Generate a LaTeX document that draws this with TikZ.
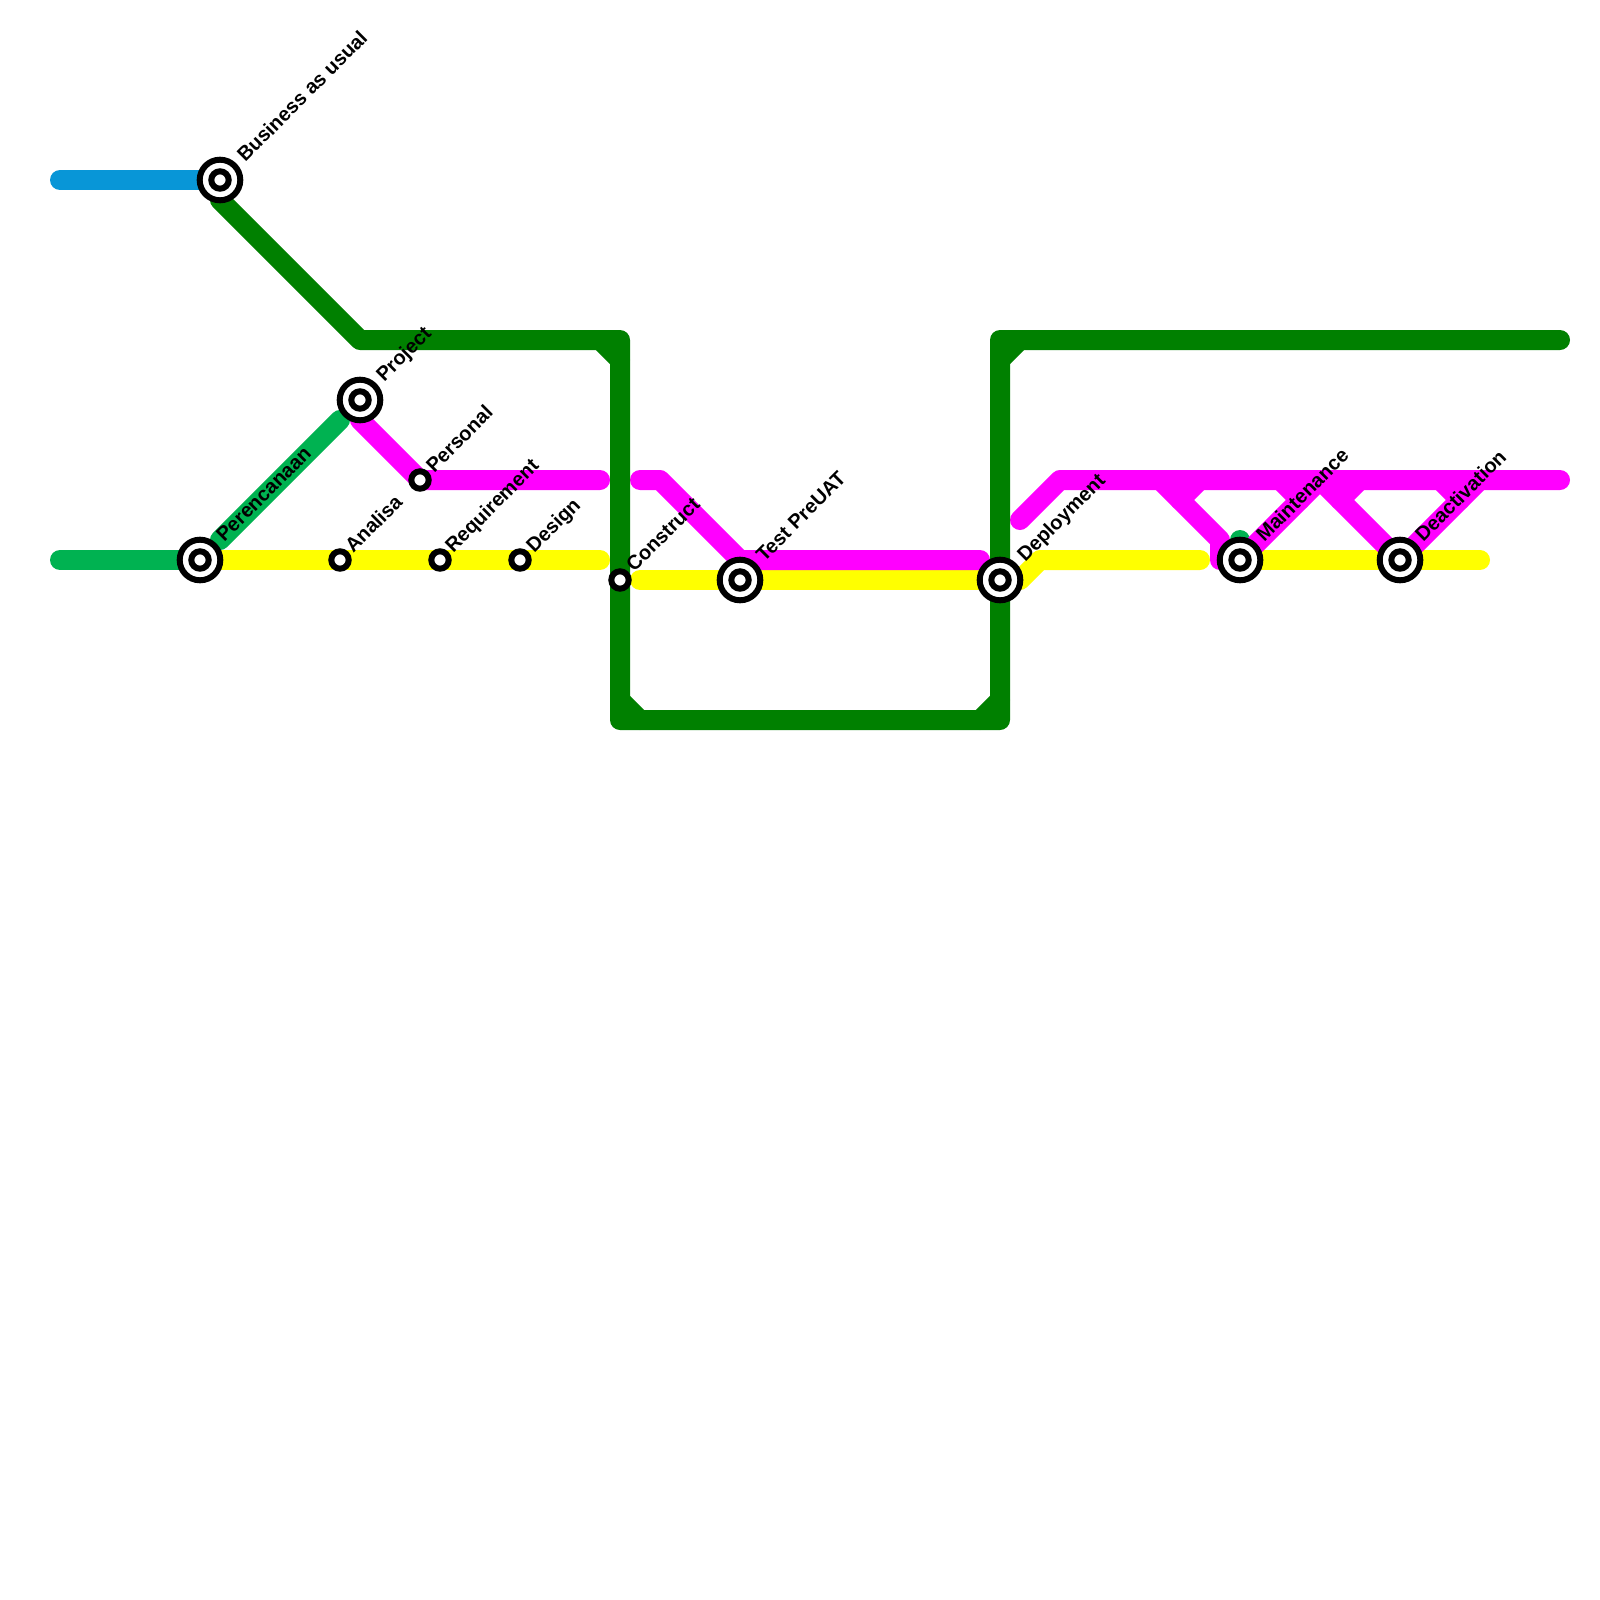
\documentclass[tikz,border=0pt]{standalone}
\usepackage{fontspec}
\setmainfont{Liberation Sans}
\usetikzlibrary{backgrounds}
\definecolor{lineblue}{HTML}{0896D7}
\definecolor{linegreen}{HTML}{008000}
\definecolor{linelime}{HTML}{00B251}
\definecolor{linepink}{HTML}{FF00FF}
\definecolor{lineyellow}{HTML}{FFFF00}
\tikzset{
    track/.style = {draw, line width = 10pt, line cap = round, line join = round},
    stop/.style = {circle, draw = black, fill = white, line width = 3pt, inner sep = 0pt, outer sep = 0pt, minimum size = 8.7pt},
    hub/.style = {stop, minimum size = 20.3pt, path picture = {\draw[line width = 3pt] (path picture bounding box.center) circle (4.35pt);}},
    stoplabel/.style = {rotate = 45, anchor = base west, inner sep = 0pt, font = \bfseries\fontsize{10}{12}\selectfont},
}

\begin{document}
\begin{tikzpicture}[x = 0.5pt, y = -0.5pt]
    \useasboundingbox (0, 0) rectangle (1600, 1600);

    \node[hub] (bau) at (220, 180) {};
    \node[hub] (plan) at (200, 560) {};
    \node[hub] (proj) at (360, 400) {};
    \node[stop] (analisa) at (340, 560) {};
    \node[stop] (pers) at (420, 480) {};
    \node[stop] (req) at (440, 560) {};
    \node[stop] (design) at (520, 560) {};
    \node[stop] (constr) at (620, 580) {};
    \node[hub] (test) at (740, 580) {};
    \node[hub] (deploy) at (1000, 580) {};
    \node[hub] (maint) at (1240, 560) {};
    \node[hub] (deact) at (1400, 560) {};

    \node[stoplabel] (l bau) at (245, 163) {Business as usual};
    \node[stoplabel] (l plan) at (224, 543) {Perencanaan};
    \node[stoplabel] (l proj) at (384, 383) {Project};
    \node[stoplabel] (l analisa) at (353, 554) {Analisa};
    \node[stoplabel] (l pers) at (434, 474) {Personal};
    \node[stoplabel] (l req) at (453, 554) {Requirement};
    \node[stoplabel] (l design) at (534, 554) {Design};
    \node[stoplabel] (l constr) at (634, 573) {Construct};
    \node[stoplabel] (l test) at (764, 563) {Test PreUAT};
    \node[stoplabel] (l deploy) at (1025, 563) {Deployment};
    \node[stoplabel] (l maint) at (1264, 543) {Maintenance};
    \node[stoplabel] (l deact) at (1423, 543) {Deactivation};

    % line ends and bends
    \coordinate (blue end) at (60, 180);
    \coordinate (lime end) at (60, 560);
    \coordinate (lime a) at (220, 540);
    \coordinate (lime b) at (340, 420);
    \coordinate (lime c) at (1240, 540);
    \coordinate (g1) at (220, 200);
    \coordinate (g2) at (360, 340);
    \coordinate (g3) at (620, 340);
    \coordinate (g4) at (620, 720);
    \coordinate (g5) at (1000, 720);
    \coordinate (g6) at (1000, 340);
    \coordinate (g7) at (1560, 340);
    \coordinate (gc1a) at (600, 340);
    \coordinate (gc1b) at (620, 360);
    \coordinate (gc2a) at (620, 700);
    \coordinate (gc2b) at (640, 720);
    \coordinate (gc3a) at (980, 720);
    \coordinate (gc3b) at (1000, 700);
    \coordinate (gc4a) at (1020, 340);
    \coordinate (gc4b) at (1000, 360);
    \coordinate (y1) at (600, 560);
    \coordinate (y2) at (640, 580);
    \coordinate (y3) at (1020, 580);
    \coordinate (y4) at (1040, 560);
    \coordinate (y5) at (1200, 560);
    \coordinate (y6) at (1480, 560);
    \coordinate (p1) at (360, 420);
    \coordinate (p2) at (600, 480);
    \coordinate (p3) at (640, 480);
    \coordinate (p4) at (660, 480);
    \coordinate (p5) at (740, 560);
    \coordinate (p6) at (980, 560);
    \coordinate (p7) at (1020, 520);
    \coordinate (p8) at (1060, 480);
    \coordinate (p9) at (1560, 480);
    \coordinate (m1) at (1160, 480);
    \coordinate (m2) at (1220, 540);
    \coordinate (m3) at (1220, 560);
    \coordinate (mc1a) at (1200, 480);
    \coordinate (mc1b) at (1180, 500);
    \coordinate (m4) at (1320, 480);
    \coordinate (mc2a) at (1280, 480);
    \coordinate (mc2b) at (1300, 500);
    \coordinate (mc3a) at (1360, 480);
    \coordinate (mc3b) at (1340, 500);
    \coordinate (m5) at (1480, 480);
    \coordinate (mc4a) at (1440, 480);
    \coordinate (mc4b) at (1460, 500);

    \begin{pgfonlayer}{background}
        \fill[white] (0, 0) rectangle (1600, 1600);

        \draw[track, lineblue] (blue end) -- (bau.center);

        \draw[track, linelime] (lime end) -- (plan.center);
        \draw[track, linelime] (lime a) -- (lime b);
        \draw[track, linelime] (lime c) -- (maint.center);

        \draw[track, lineyellow] (plan.center) -- (y1);
        \draw[track, lineyellow] (y2) -- (test.center) -- (deploy.center);
        \draw[track, lineyellow] (deploy.center) -- (y3) -- (y4) -- (y5);
        \draw[track, lineyellow] (maint.center) -- (deact.center) -- (y6);

        \draw[track, linepink] (proj.center) -- (p1) -- (pers.center) -- (p2);
        \draw[track, linepink] (p3) -- (p4) -- (p5) -- (p6);
        \draw[track, linepink] (p7) -- (p8) -- (p9);
        \draw[track, linepink] (m1) -- (m2) -- (m3) -- (maint.center) -- (m4) -- (deact.center) -- (m5);
        \draw[track, linepink] (mc1a) -- (mc1b);
        \draw[track, linepink] (mc2a) -- (mc2b);
        \draw[track, linepink] (mc3a) -- (mc3b);
        \draw[track, linepink] (mc4a) -- (mc4b);

        \draw[track, linegreen] (bau.center) -- (g1) -- (g2) -- (g3) -- (g4) -- (g5) -- (g6) -- (g7);
        \draw[track, linegreen] (gc1a) -- (gc1b);
        \draw[track, linegreen] (gc2a) -- (gc2b);
        \draw[track, linegreen] (gc3a) -- (gc3b);
        \draw[track, linegreen] (gc4a) -- (gc4b);
    \end{pgfonlayer}
\end{tikzpicture}
\end{document}
